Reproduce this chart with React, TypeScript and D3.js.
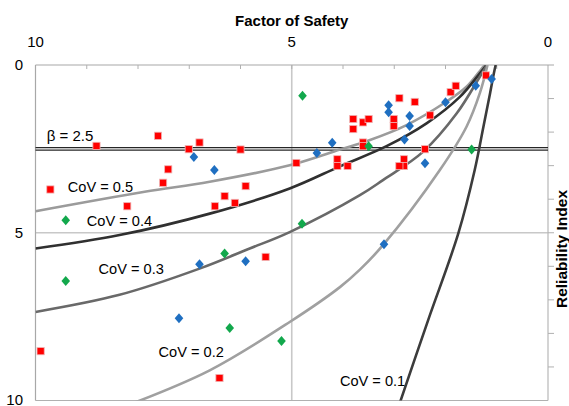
import React from 'react';
import * as d3 from 'd3';

const W = 569;
const H = 406;
const margin = { top: 65, right: 21, bottom: 5.5, left: 35.5 };

const fsTicks = [10, 5, 0];
const betaTicks = [0, 5, 10];
const betaTarget = 2.5;

// curves of constant CoV, [FS, beta]
const cov05 = [[10, 4.36], [7.87, 3.78], [6.6, 3.48], [5.04, 2.99], [4.06, 2.52], [3.5, 2.25], [2.76, 1.79], [2.0, 1.11], [1.59, 0.65], [1.26, 0.05], [1.22, 0]];
const cov04 = [[10, 5.47], [8.36, 5.07], [6.6, 4.43], [5.04, 3.68], [4.06, 3.02], [3.15, 2.42], [2.37, 1.74], [1.72, 0.95], [1.33, 0.25], [1.2, 0]];
const cov03 = [[10, 7.36], [8.36, 6.85], [6.8, 6.07], [5.82, 5.47], [5.04, 4.98], [3.67, 3.88], [3.22, 3.43], [2.44, 2.59], [1.78, 1.44], [1.33, 0.35], [1.19, 0]];
const cov02 = [[8.3, 10.2], [6.6, 9.1], [5.04, 7.66], [4.06, 6.62], [3.67, 6.1], [3.22, 5.37], [2.11, 3.13], [1.59, 1.84], [1.33, 0.84], [1.18, 0]];
const cov01 = [[2.92, 10.2], [2.34, 7.61], [1.75, 5.02], [1.43, 3.13], [1.26, 1.84], [1.13, 0.84], [1.05, 0.2], [1.02, 0]];

const curveLabels = ['CoV = 0.5', 'CoV = 0.4', 'CoV = 0.3', 'CoV = 0.2', 'CoV = 0.1'];
// label anchor in data units [FS, beta]
const labelAt = [[9.37, 3.79], [9.0, 4.8], [8.77, 6.22], [7.6, 8.71], [4.06, 9.57]];

// observed cases [FS, beta]
const redCases = [
  [8.81, 2.41], [7.61, 2.11], [7.01, 2.51], [6.8, 2.31], [7.41, 3.11], [7.51, 3.51], [9.71, 3.71],
  [8.21, 4.21], [6.0, 2.52], [5.9, 3.61], [6.31, 3.91], [6.5, 4.21], [6.11, 4.11], [5.51, 5.72],
  [4.91, 2.92], [4.11, 2.81], [4.11, 3.01], [3.91, 3.01], [3.8, 1.61], [3.8, 1.91], [3.61, 1.71],
  [3.5, 1.61], [3.61, 2.31], [3.61, 2.42], [2.9, 0.99], [2.6, 1.1], [3.01, 1.61], [3.01, 1.82],
  [2.3, 1.5], [2.81, 2.81], [2.81, 3.01], [2.9, 3.01], [2.4, 2.51], [1.9, 0.81], [1.8, 0.62],
  [1.21, 0.31], [9.9, 8.53], [6.41, 9.33],
];
const blueCases = [
  [6.91, 2.74], [6.51, 3.13], [6.8, 5.94], [5.9, 5.85], [7.2, 7.55], [4.51, 2.62], [4.21, 2.32],
  [3.11, 1.2], [3.11, 1.41], [2.7, 1.52], [2.7, 1.82], [2.8, 2.22], [2.4, 2.93], [2.0, 1.11],
  [1.41, 0.62], [1.1, 0.42], [3.2, 5.34],
];
const greenCases = [
  [9.41, 4.63], [9.41, 6.44], [6.31, 5.62], [6.21, 7.84], [5.2, 8.23], [4.8, 4.73], [4.79, 0.92],
  [3.5, 2.42], [1.49, 2.52],
];

const curveSeries = [cov05, cov04, cov03, cov02, cov01];
const curveColors = ['#9b9b9b', '#303030', '#696969', '#a0a0a0', '#3c3c3c'];

const font = '"Liberation Sans", Arial, sans-serif';

export default function App() {
  const x = d3.scaleLinear().domain([10, 0]).range([margin.left, W - margin.right]);
  const y = d3.scaleLinear().domain([0, 10]).range([margin.top, H - margin.bottom]);
  const line = d3.line<number[]>()
    .x(d => x(d[0]))
    .y(d => y(d[1]))
    .curve(d3.curveCatmullRom.alpha(0.5));

  const x0 = x(10), x1 = x(0), y0 = y(0), y1 = y(10);
  const minorFs = d3.range(1, 10);
  const minorBeta = d3.range(1, 10);

  const diamond = (cx: number, cy: number) =>
    `M${cx},${cy - 5}L${cx + 4.3},${cy}L${cx},${cy + 5}L${cx - 4.3},${cy}Z`;

  return (
    <svg width={W} height={H} style={{ position: 'absolute', left: 0, top: 0, background: '#fff' }} fontFamily={font}>
      <defs>
        <clipPath id="plot">
          <rect x={x0} y={y0} width={x1 - x0} height={y1 - y0} />
        </clipPath>
      </defs>

      {/* frame and grid */}
      <line x1={x(5)} x2={x(5)} y1={y0} y2={y1} stroke="#c8c8c8" strokeWidth={1.6} />
      <line x1={x0} x2={x1} y1={y(5)} y2={y(5)} stroke="#c8c8c8" strokeWidth={1.4} />
      <line x1={x0} x2={x1} y1={y1} y2={y1} stroke="#b0b0b0" strokeWidth={1.2} />
      <line x1={x0} x2={x0} y1={y0} y2={y1} stroke="#a8a8a8" strokeWidth={1.2} />
      <line x1={x1} x2={x1} y1={y0} y2={y1} stroke="#b8b8b8" strokeWidth={1.2} />
      <line x1={x0} x2={x1 + 6} y1={y0} y2={y0} stroke="#a8a8a8" strokeWidth={1.2} />
      {minorFs.map(v => (
        <line key={'tf' + v} x1={x(v)} x2={x(v)} y1={y0} y2={y0 + 4} stroke="#b0b0b0" />
      ))}
      {minorBeta.map(v => (
        <line key={'tb' + v} x1={x1} x2={x1 + 6} y1={y(v)} y2={y(v)} stroke="#b0b0b0" />
      ))}

      {/* target reliability */}
      <line x1={x0} x2={x1} y1={y(betaTarget) - 1.2} y2={y(betaTarget) - 1.2} stroke="#262626" strokeWidth={1.2} />
      <line x1={x0} x2={x1} y1={y(betaTarget) + 1.2} y2={y(betaTarget) + 1.2} stroke="#262626" strokeWidth={1.2} />

      <g clipPath="url(#plot)">
        {curveSeries.map((pts, i) => (
          <path key={'c' + i} d={line(pts) || ''} fill="none" stroke={curveColors[i]} strokeWidth={2.6} />
        ))}
      </g>

      {redCases.map((d, i) => (
        <rect key={'r' + i} x={x(d[0]) - 3.6} y={y(d[1]) - 3.6} width={7.2} height={7.2}
          fill="#ff0000" stroke="#f0b4b4" strokeWidth={0.8} />
      ))}
      {blueCases.map((d, i) => (
        <path key={'b' + i} d={diamond(x(d[0]), y(d[1]))} fill="#1f6fc1" />
      ))}
      {greenCases.map((d, i) => (
        <path key={'g' + i} d={diamond(x(d[0]), y(d[1]))} fill="#12a84c" />
      ))}

      {/* annotations */}
      <text x={x(9.78)} y={y(2.27)} fontSize={15} fill="#000">β = 2.5</text>
      {curveLabels.map((t, i) => (
        <text key={'l' + i} x={x(labelAt[i][0])} y={y(labelAt[i][1])} fontSize={14.6} fill="#000">{t}</text>
      ))}

      {/* axes labels */}
      {fsTicks.map(v => (
        <text key={'xf' + v} x={x(v)} y={47} fontSize={15} textAnchor="middle" fill="#000">{v}</text>
      ))}
      {betaTicks.map(v => (
        <text key={'yb' + v} x={23} y={Math.min(y(v) + 5.4, 404.5)} fontSize={15} textAnchor="end" fill="#000">{v}</text>
      ))}
      <text x={(x0 + x1) / 2} y={26} fontSize={15} fontWeight="bold" textAnchor="middle">Factor of Safety</text>
      <text transform={`translate(567,249) rotate(-90)`} fontSize={15.5} fontWeight="bold" textAnchor="middle">Reliability Index</text>
    </svg>
  );
}
